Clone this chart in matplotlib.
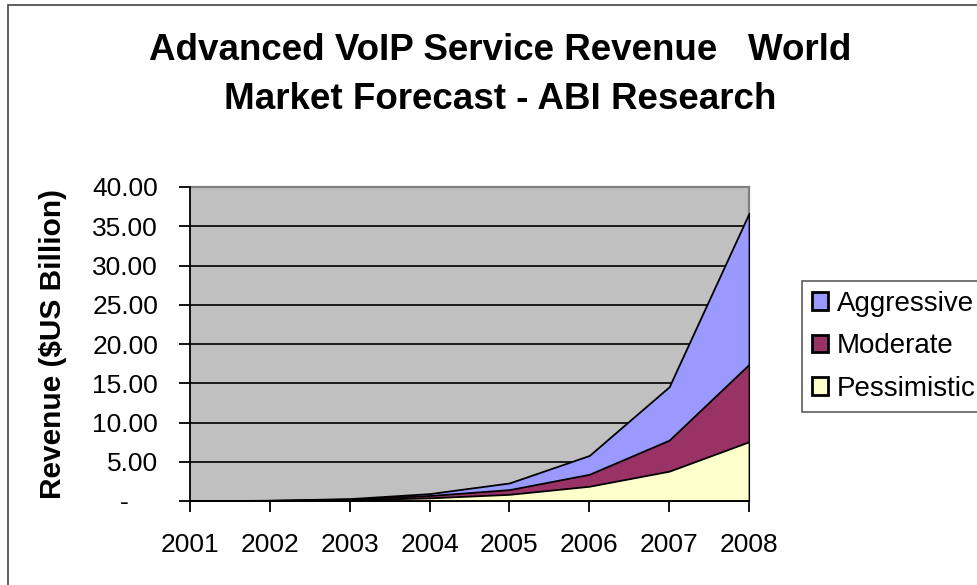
import matplotlib
matplotlib.use("Agg")
import matplotlib.pyplot as plt
from matplotlib.patches import Rectangle
from matplotlib.ticker import FixedLocator, FuncFormatter

years = ["2001", "2002", "2003", "2004", "2005", "2006", "2007", "2008"]
aggressive = [0.02, 0.10, 0.30, 0.94, 2.30, 5.80, 14.55, 36.65]
moderate = [0.02, 0.08, 0.25, 0.70, 1.45, 3.40, 7.75, 17.40]
pessimistic = [0.01, 0.05, 0.15, 0.40, 0.85, 1.88, 3.80, 7.55]
series_names = ["Aggressive", "Moderate", "Pessimistic"]
series_colors = ["#9999FF", "#993366", "#FFFFCC"]
yticks = [0, 5, 10, 15, 20, 25, 30, 35, 40]

plt.rcParams['font.family'] = ['Liberation Sans', 'DejaVu Sans']

fig = plt.figure(figsize=(9.77, 5.85), dpi=100)
fig.patch.set_facecolor("white")
# outer chart border (left and top edges visible)
fig.add_artist(Rectangle((8/977, -0.05), 1.1, 1 - 5/585 + 0.05, transform=fig.transFigure,
                         fill=False, edgecolor="#444444", linewidth=1.2))

L, R, T, B = 190, 749, 187, 501
ax = fig.add_axes([L/977, 1 - B/585, (R - L)/977, (B - T)/585])
ax.set_facecolor("#C0C0C0")
x = list(range(len(years)))
for vals, name, col in zip([aggressive, moderate, pessimistic], series_names, series_colors):
    ax.fill_between(x, 0, vals, facecolor=col, edgecolor="black", linewidth=1.3, label=name, zorder=3)

ax.set_xlim(0, len(years) - 1)
ax.set_ylim(0, 40)
ax.yaxis.set_major_locator(FixedLocator(yticks))
ax.yaxis.set_major_formatter(FuncFormatter(lambda v, p: "-    " if v == 0 else f"{v:.2f}"))
ax.set_xticks(x)
ax.set_xticklabels(years)
ax.grid(axis="y", color="black", linewidth=1.2, zorder=1)
ax.set_axisbelow(True)
for s in ["left", "bottom"]:
    ax.spines[s].set_color("black")
    ax.spines[s].set_linewidth(1.3)
    ax.spines[s].set_zorder(5)
for s in ["top", "right"]:
    ax.spines[s].set_color("#808080")
    ax.spines[s].set_linewidth(1.6)
ax.tick_params(axis="both", direction="out", length=8, width=1.3, colors="black", labelsize=19)
ax.tick_params(axis="y", pad=15)
ax.tick_params(axis="x", pad=15)
ax.set_ylabel("Revenue ($US Billion)", fontsize=21.5, fontweight="bold", labelpad=18)

fig.text(0.512, 1 - 50/585, "Advanced VoIP Service Revenue   World", ha="center", va="center",
         fontsize=26.5, fontweight="bold")
fig.text(0.512, 1 - 99/585, "Market Forecast - ABI Research", ha="center", va="center",
         fontsize=26.5, fontweight="bold")

leg = fig.legend(loc="upper left", bbox_to_anchor=(802/977, 1 - 281/585), fontsize=20,
                 frameon=True, fancybox=False, edgecolor="#333333", handlelength=0.6, handleheight=0.6,
                 handletextpad=0.3, borderpad=0.35, labelspacing=0.6, borderaxespad=0)
leg.get_frame().set_linewidth(1.2)
for h in leg.legend_handles:
    h.set_linewidth(2.0)
    h.set_edgecolor("black")

fig.savefig("out.png", dpi=100)
